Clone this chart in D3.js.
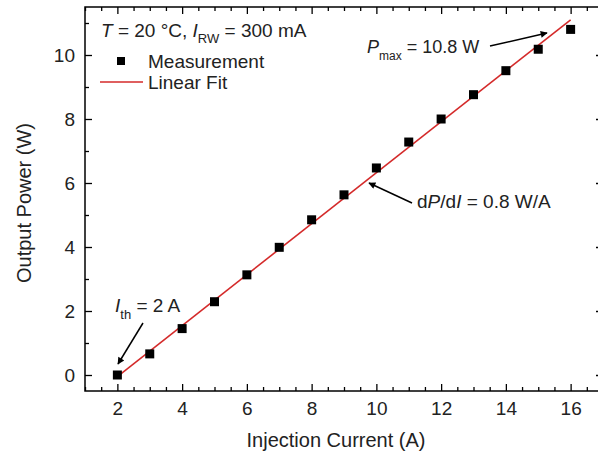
<!DOCTYPE html>
<html><head><meta charset="utf-8">
<script src="https://cdn.jsdelivr.net/npm/d3@7"></script>
<style>
html,body{margin:0;padding:0;background:#fff;}
svg{display:block;font-family:"Liberation Sans",Arial,sans-serif;}
</style></head>
<body><svg id="c" width="598" height="461"></svg>
<script>
// ---- data ----
const currents = [2,3,4,5,6,7,8,9,10,11,12,13,14,15,16];
const powers   = [0.0,0.66,1.45,2.29,3.13,3.99,4.85,5.63,6.47,7.28,8.0,8.76,9.51,10.18,10.8];
const fitX = [2, 16];
const fitY = [-0.05, 11.1];
const xTicks = [2,4,6,8,10,12,14,16];
const yTicks = [0,2,4,6,8,10];
const xDomain = [1, 17];
const yDomain = [-0.5, 11.5];

const svg = d3.select("#c");
const L = 85, R = 603, T = 7, B = 391;
const x = d3.scaleLinear().domain(xDomain).range([L, R]);
const y = d3.scaleLinear().domain(yDomain).range([B, T]);
const txt = "#222";
const FS = "19px", SUB = "13px";

const xMinor = d3.range(1, 17.01, 0.5).filter(v => !xTicks.includes(v));
const yMinor = [-0.5,0,1,2,3,4,5,6,7,8,9,10,11].filter(v => Number.isInteger(v) && !yTicks.includes(v));

function styleAxis(g){ g.select(".domain").remove(); g.selectAll(".tick line").attr("stroke","#000").attr("stroke-width",1.3); }

// bottom
svg.append("g").attr("transform",`translate(0,${B})`)
  .call(d3.axisBottom(x).tickValues(xTicks).tickSize(-7).tickPadding(11).tickFormat(d3.format("d")))
  .call(styleAxis).call(g=>g.selectAll("text").attr("fill",txt).style("font-size","19px").style("font-family","Liberation Sans, Arial"));
svg.append("g").attr("transform",`translate(0,${B})`)
  .call(d3.axisBottom(x).tickValues(xMinor).tickSize(-4).tickFormat(""))
  .call(styleAxis);
// top
svg.append("g").attr("transform",`translate(0,${T})`)
  .call(d3.axisTop(x).tickValues(xTicks).tickSize(-7).tickFormat("")).call(styleAxis);
svg.append("g").attr("transform",`translate(0,${T})`)
  .call(d3.axisTop(x).tickValues(xMinor).tickSize(-4).tickFormat("")).call(styleAxis);
// left
svg.append("g").attr("transform",`translate(${L},0)`)
  .call(d3.axisLeft(y).tickValues(yTicks).tickSize(-7).tickPadding(10).tickFormat(d3.format("d")))
  .call(styleAxis).call(g=>g.selectAll("text").attr("fill",txt).style("font-size","19px").style("font-family","Liberation Sans, Arial"));
svg.append("g").attr("transform",`translate(${L},0)`)
  .call(d3.axisLeft(y).tickValues(yMinor).tickSize(-4).tickFormat("")).call(styleAxis);
// right
svg.append("g").attr("transform",`translate(${R},0)`)
  .call(d3.axisRight(y).tickValues(yTicks).tickSize(-7).tickFormat("")).call(styleAxis);
svg.append("g").attr("transform",`translate(${R},0)`)
  .call(d3.axisRight(y).tickValues(yMinor).tickSize(-4).tickFormat("")).call(styleAxis);

// frame
svg.append("rect").attr("x",L).attr("y",T).attr("width",R-L).attr("height",B-T)
  .attr("fill","none").attr("stroke","#000").attr("stroke-width",1.5);

// fit line
const line = d3.line().x((d,i)=>x(fitX[i])).y(d=>y(d));
svg.append("path").datum(fitY).attr("d",line).attr("fill","none").attr("stroke","#d42a2a").attr("stroke-width",1.6);

// points
svg.selectAll("rect.pt").data(currents).enter().append("rect").attr("class","pt")
  .attr("x",(d)=>x(d)-4.5).attr("y",(d,i)=>y(powers[i])-4.5).attr("width",9).attr("height",9).attr("fill","#000");

// labels
svg.append("text").attr("x",336).attr("y",447).attr("text-anchor","middle").attr("fill",txt)
  .style("font-size","20px").text("Injection Current (A)");
svg.append("text").attr("transform","translate(31,203) rotate(-90)").attr("text-anchor","middle").attr("fill",txt)
  .style("font-size","20px").text("Output Power (W)");

// header text
const h = svg.append("text").attr("x",101).attr("y",37).attr("fill",txt).style("font-size",FS);
h.append("tspan").attr("font-style","italic").text("T");
h.append("tspan").text(" = 20 °C, ");
h.append("tspan").attr("font-style","italic").text("I");
h.append("tspan").attr("dy",6).style("font-size",SUB).text("RW");
h.append("tspan").attr("dy",-6).text(" = 300 mA");

// legend
svg.append("rect").attr("x",117).attr("y",57).attr("width",8).attr("height",8).attr("fill","#000");
svg.append("text").attr("x",148).attr("y",68).attr("fill",txt).style("font-size",FS).text("Measurement");
svg.append("line").attr("x1",100).attr("x2",143).attr("y1",82).attr("y2",82).attr("stroke","#d42a2a").attr("stroke-width",1.6);
svg.append("text").attr("x",148).attr("y",89).attr("fill",txt).style("font-size",FS).text("Linear Fit");

// arrows
const defs = svg.append("defs");
defs.append("marker").attr("id","ah").attr("viewBox","0 0 10 10").attr("refX",9).attr("refY",5)
  .attr("markerWidth",10).attr("markerHeight",7).attr("markerUnits","userSpaceOnUse").attr("orient","auto")
  .append("path").attr("d","M0,0 L10,5 L0,10 Z").attr("fill","#000");
function arrow(x1,y1,x2,y2){
  svg.append("line").attr("x1",x1).attr("y1",y1).attr("x2",x2).attr("y2",y2)
    .attr("stroke","#000").attr("stroke-width",1.5).attr("marker-end","url(#ah)");
}

// Pmax
const p = svg.append("text").attr("x",367).attr("y",53).attr("fill",txt).style("font-size","18px");
p.append("tspan").attr("font-style","italic").text("P");
p.append("tspan").attr("dy",7).style("font-size","12px").text("max");
p.append("tspan").attr("dy",-7).text(" = 10.8 W");
arrow(490,46,547,33);

// slope
const s = svg.append("text").attr("x",417).attr("y",208).attr("fill",txt).style("font-size",FS);
s.append("tspan").text("d");
s.append("tspan").attr("font-style","italic").text("P");
s.append("tspan").text("/d");
s.append("tspan").attr("font-style","italic").text("I");
s.append("tspan").text(" = 0.8 W/A");
arrow(412,203,369,183);

// Ith
const t = svg.append("text").attr("x",115).attr("y",312).attr("fill",txt).style("font-size",FS);
t.append("tspan").attr("font-style","italic").text("I");
t.append("tspan").attr("dy",7).style("font-size",SUB).text("th");
t.append("tspan").attr("dy",-7).text(" = 2 A");
arrow(143,323,118,364);
</script></body></html>
